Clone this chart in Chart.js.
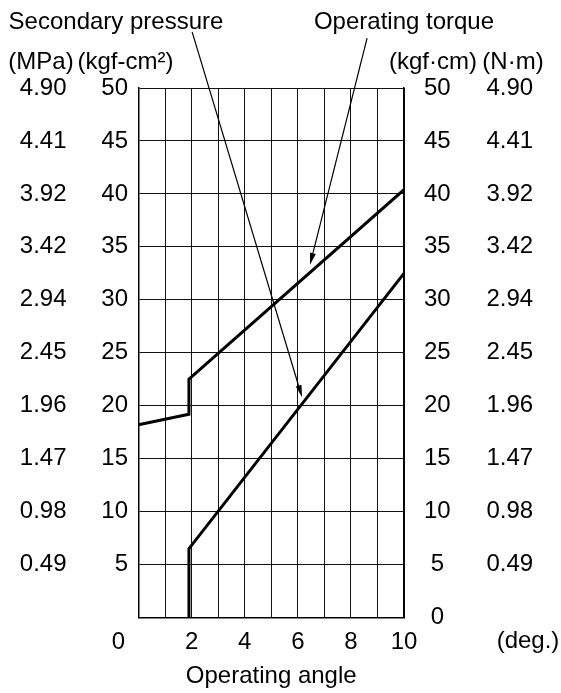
<!DOCTYPE html>
<html>
<head>
<meta charset="utf-8">
<title>Operating torque and secondary pressure</title>
<script src="https://cdn.jsdelivr.net/npm/chart.js@4.4.1/dist/chart.umd.min.js"></script>
<style>
  html, body { margin: 0; padding: 0; background: #fff; }
  canvas { display: block; }
</style>
</head>
<body>
<canvas id="torqueChart" width="561" height="693"></canvas>
<script>
// operating angle (deg.) against torque (kgf·cm) and secondary pressure (kgf/cm2)
const torqueAngle = [0, 1.9, 1.9, 10];
const torqueKgfcm = [18.2, 19.2, 22.5, 40.4];
const pressureAngle = [1.9, 1.9, 10];
const pressureKgf = [0, 6.5, 32.5];

const angleTicks = [0, 2, 4, 6, 8, 10];
const kgfTicks = [5, 10, 15, 20, 25, 30, 35, 40, 45, 50];
const mpaLabels = ["0.49", "0.98", "1.47", "1.96", "2.45", "2.94", "3.42", "3.92", "4.41", "4.90"];
const nmLabels = ["0.49", "0.98", "1.47", "1.96", "2.45", "2.94", "3.42", "3.92", "4.41", "4.90"];

// leader arrows, [angle, value] at the caption end and at the tip
const pressureLeader = [[2.02, 55.3], [6.16, 20.8]];
const torqueLeader = [[8.61, 54.7], [6.46, 33.3]];

const FONT_FAMILY = '"Liberation Sans", Arial, sans-serif';
const FONT_SIZE = 24;

Chart.defaults.font.family = FONT_FAMILY;
Chart.defaults.font.size = FONT_SIZE;
Chart.defaults.color = "#000";

const captions = [
  { text: "Secondary pressure", x: 116, y: 28.5 },
  { text: "Operating torque", x: 404, y: 28.5 },
  { text: "(MPa)", x: 41, y: 68.5 },
  { text: "(kgf-cm\u00b2)", x: 125.5, y: 68.5 },
  { text: "(kgf\u00b7cm)", x: 433, y: 68.5 },
  { text: "(N\u00b7m)", x: 513, y: 68.5 },
  { text: "(deg.)", x: 528, y: 648 },
];

function drawArrow(ctx, x0, y0, x1, y1) {
  const ang = Math.atan2(y1 - y0, x1 - x0);
  const len = 12;
  const half = 3;
  const bx = x1 - len * Math.cos(ang);
  const by = y1 - len * Math.sin(ang);
  ctx.lineWidth = 1.2;
  ctx.beginPath();
  ctx.moveTo(x0, y0);
  ctx.lineTo(bx, by);
  ctx.stroke();
  ctx.beginPath();
  ctx.moveTo(x1, y1);
  ctx.lineTo(bx + half * Math.sin(ang), by - half * Math.cos(ang));
  ctx.lineTo(bx - half * Math.sin(ang), by + half * Math.cos(ang));
  ctx.closePath();
  ctx.fill();
}

// unit headers, captions and the leader arrows
const annotations = {
  id: "annotations",
  afterDraw(chart) {
    const { ctx, scales } = chart;
    ctx.save();
    ctx.fillStyle = "#000";
    ctx.strokeStyle = "#000";
    ctx.font = FONT_SIZE + "px " + FONT_FAMILY;
    ctx.textAlign = "center";
    ctx.textBaseline = "alphabetic";
    captions.forEach((c) => ctx.fillText(c.text, c.x, c.y));

    [pressureLeader, torqueLeader].forEach(([from, to]) => {
      drawArrow(
        ctx,
        scales.x.getPixelForValue(from[0]),
        scales.y.getPixelForValue(from[1]),
        scales.x.getPixelForValue(to[0]),
        scales.y.getPixelForValue(to[1])
      );
    });
    ctx.restore();
  },
};

function toPoints(xs, ys) {
  return xs.map((x, i) => ({ x, y: ys[i] }));
}

const lineStyle = {
  showLine: true,
  borderColor: "#000",
  borderWidth: 3,
  pointRadius: 0,
  fill: false,
  tension: 0,
};

new Chart(document.getElementById("torqueChart"), {
  type: "scatter",
  data: {
    datasets: [
      {
        label: "Operating torque",
        data: toPoints(torqueAngle, torqueKgfcm),
        yAxisID: "yR",
        ...lineStyle,
      },
      {
        label: "Secondary pressure",
        data: toPoints(pressureAngle, pressureKgf),
        yAxisID: "y",
        ...lineStyle,
      },
    ],
  },
  options: {
    responsive: false,
    animation: false,
    layout: { padding: { top: 88, left: 0, right: 0, bottom: 0 } },
    plugins: {
      legend: { display: false },
      tooltip: { enabled: false },
    },
    scales: {
      x: {
        type: "linear",
        min: 0,
        max: 10,
        grid: { color: "#111", lineWidth: 1, drawTicks: false },
        border: { color: "#000", width: 1.5 },
        ticks: {
          stepSize: 1,
          autoSkip: false,
          maxRotation: 0,
          padding: 10.5,
          // the zero sits out to the left of the frame
          callback: (v) => {
            if (!angleTicks.includes(v)) return "";
            return v === 0 ? "0      " : String(v);
          },
        },
        title: {
          display: true,
          text: "Operating angle",
          padding: { top: 5, bottom: 2 },
        },
        afterFit: (s) => {
          s.height = 75.5;
        },
      },
      y: {
        position: "left",
        min: 0,
        max: 50,
        weight: 0,
        grid: { color: "#111", lineWidth: 1, drawTicks: false },
        border: { color: "#000", width: 1.5 },
        ticks: {
          stepSize: 2.5,
          padding: 10.5,
          callback: (v) => (kgfTicks.includes(v) ? String(v) : ""),
        },
        afterFit: (s) => {
          s.width = 36.5;
        },
      },
      yMPa: {
        position: "left",
        min: 0,
        max: 50,
        weight: 1,
        grid: { display: false, drawTicks: false },
        border: { display: false },
        ticks: {
          stepSize: 5,
          padding: 35.5,
          callback: (v) => {
            const i = kgfTicks.indexOf(v);
            return i < 0 ? "" : mpaLabels[i];
          },
        },
        afterFit: (s) => {
          s.width = 102;
        },
      },
      yR: {
        position: "right",
        min: 0,
        max: 50,
        weight: 0,
        grid: { display: false, drawTicks: false },
        border: { color: "#000", width: 1.5 },
        ticks: {
          stepSize: 5,
          padding: 20,
          crossAlign: "center",
          callback: (v) => (v === 0 || kgfTicks.includes(v) ? String(v) : ""),
        },
        afterFit: (s) => {
          s.width = 60;
        },
      },
      yNm: {
        position: "right",
        min: 0,
        max: 50,
        weight: 1,
        grid: { display: false, drawTicks: false },
        border: { display: false },
        ticks: {
          stepSize: 5,
          padding: 22.5,
          callback: (v) => {
            const i = kgfTicks.indexOf(v);
            return i < 0 ? "" : nmLabels[i];
          },
        },
        afterFit: (s) => {
          s.width = 97;
        },
      },
    },
  },
  plugins: [annotations],
});
</script>
</body>
</html>
